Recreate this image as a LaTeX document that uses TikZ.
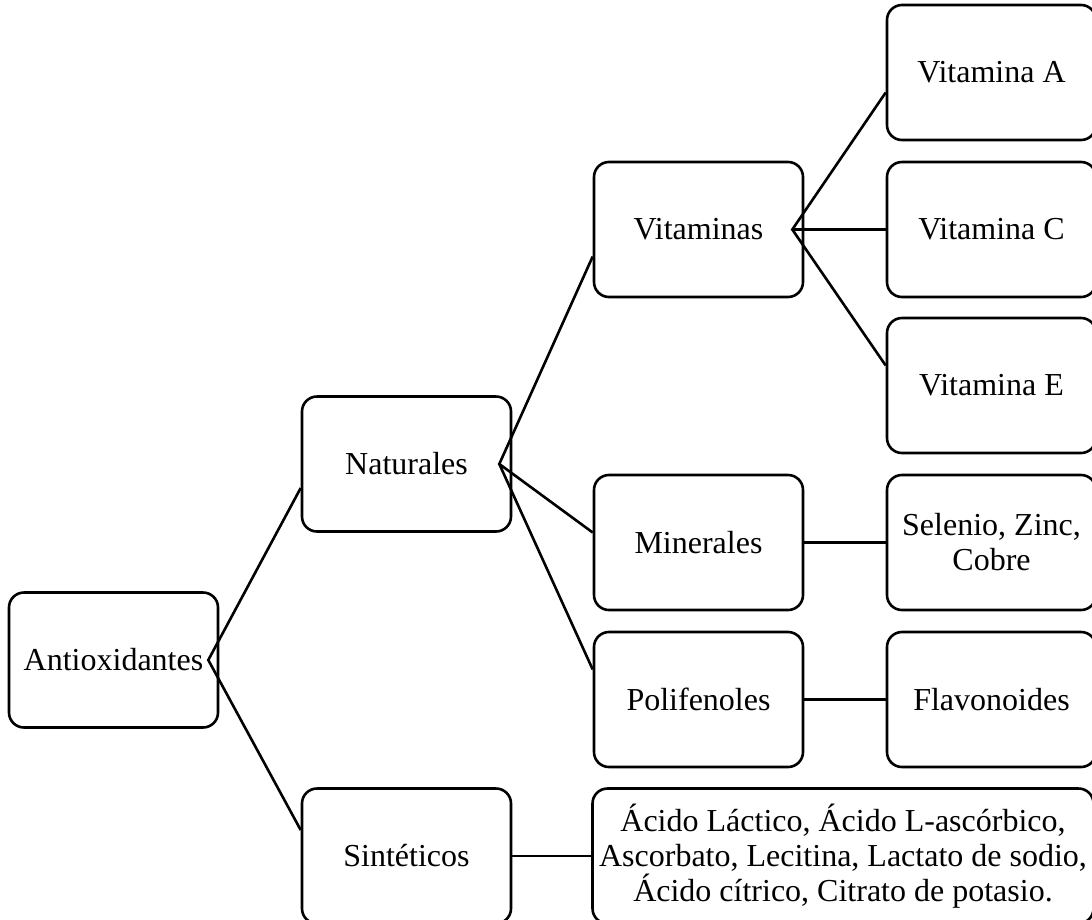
\documentclass[tikz,border=0pt]{standalone}
\usepackage{fontspec}
\setmainfont{Liberation Serif}
\usetikzlibrary{calc}
\begin{document}
\begin{tikzpicture}[x=1pt,y=-1pt,
  box/.style={draw=black, line width=2.6pt, rounded corners=15pt, fill=white,
    minimum width=209pt, minimum height=135pt, inner sep=0pt, align=center,
    font=\fontsize{32}{35}\selectfont},
  widebox/.style={box, minimum width=501pt},
  conn/.style={draw=black, line width=2.6pt, line join=miter}]
\useasboundingbox (0,0) rectangle (1092,919);
\clip (0,0) rectangle (1092,919);
\node[box] (anti) at (113.5,660) {Antioxidantes};
\node[box] (nat) at (406.5,464) {Naturales};
\node[box] (sin) at (406.5,856) {Sintéticos};
\node[box] (vit) at (698.5,229.5) {Vitaminas};
\node[box] (min) at (698.5,542.5) {Minerales};
\node[box] (pol) at (698.5,699.5) {Polifenoles};
\node[box] (va) at (991.5,72.5) {Vitamina A};
\node[box] (vc) at (991.5,229.5) {Vitamina C};
\node[box] (ve) at (991.5,385.5) {Vitamina E};
\node[box] (sel) at (991.5,542.5) {Selenio, Zinc,\\Cobre};
\node[box] (fla) at (991.5,699.5) {Flavonoides};
\node[widebox] (syn) at (843,856) {Ácido Láctico, Ácido L-ascórbico,\\Ascorbato, Lecitina, Lactato de sodio,\\Ácido cítrico, Citrato de potasio.};
\coordinate (antiP) at ($(anti.east)+(-11,0)$);
\coordinate (natP) at ($(nat.east)+(-13,0)$);
\coordinate (vitP) at ($(vit.east)+(-12,0)$);
\draw[conn] ($(nat.west)+(0,24)$) -- (antiP) -- ($(sin.west)+(0,-26)$);
\draw[conn] ($(vit.west)+(0,27)$) -- (natP) -- ($(pol.west)+(0,-30)$);
\draw[conn] (natP) -- ($(min.west)+(0,-10)$);
\draw[conn] ($(va.west)+(0,20)$) -- (vitP) -- ($(ve.west)+(0,-20)$);
\draw[conn] (vitP) -- (vc.west);
\draw[conn] (min.east) -- (sel.west);
\draw[conn] (pol.east) -- (fla.west);
\draw[conn] (sin.east) -- (syn.west);
\end{tikzpicture}
\end{document}
